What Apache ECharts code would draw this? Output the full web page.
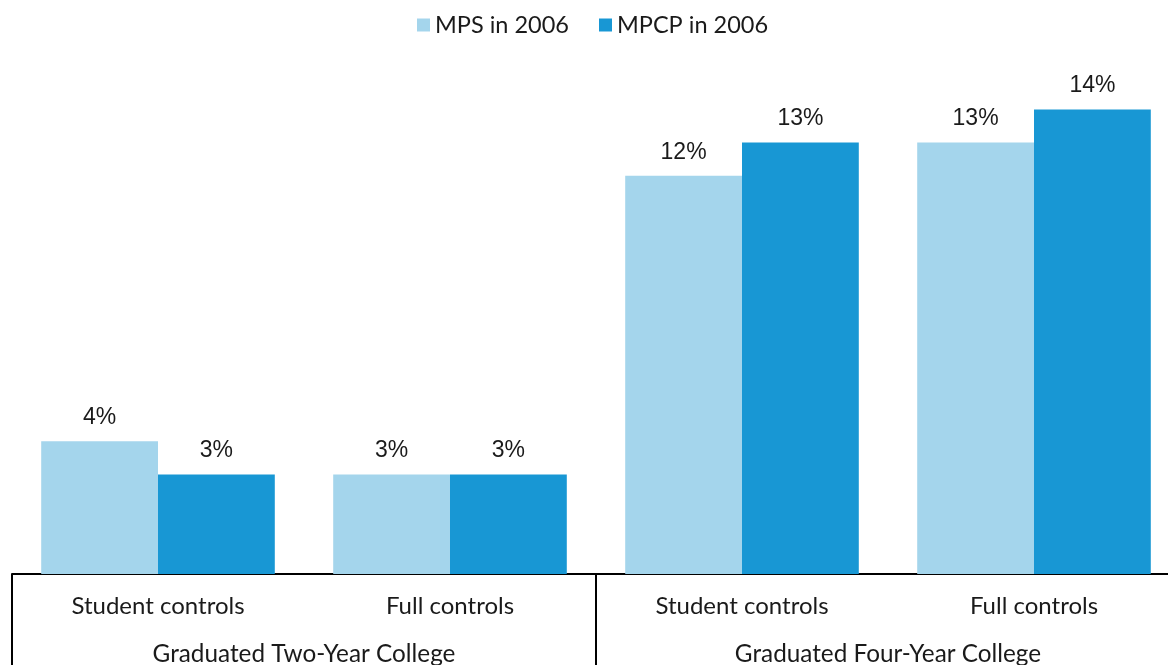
<!DOCTYPE html>
<html>
<head>
<meta charset="utf-8">
<script src="https://cdn.jsdelivr.net/npm/echarts@6/dist/echarts.min.js"></script>
<style>
  html, body { margin: 0; padding: 0; background: #fff; }
  #chart { width: 1168px; height: 665px; }
</style>
</head>
<body>
<div id="chart"></div>
<script>
// categories
const controls = ["Student controls", "Full controls", "Student controls", "Full controls"];
const outcomes = ["Graduated Two-Year College", "Graduated Four-Year College"];
// series values (%)
const mps2006 = [4, 3, 12, 13];
const mpcp2006 = [3, 3, 13, 14];

const chart = echarts.init(document.getElementById("chart"));

const labelStyle = {
  show: true,
  position: "top",
  distance: 12,
  formatter: (p) => Math.round(p.value) + "%",
  fontFamily: "Liberation Sans, Arial",
  fontSize: 23,
  color: "#1a1a1a",
};

const option = {
  animation: false,
  legend: {
    top: 8,
    left: 412,
    itemWidth: 13,
    itemHeight: 13,
    itemGap: 30,
    icon: "rect",
    textStyle: { fontFamily: "Lato", fontSize: 23.5, color: "#1a1a1a" },
  },
  grid: { left: 12, right: -12, top: 43, bottom: 91, outerBoundsMode: "none" },
  xAxis: [
    {
      type: "category",
      data: controls,
      axisLine: { show: false },
      axisTick: { show: false },
      axisLabel: {
        margin: 20,
        fontFamily: "Lato",
        fontSize: 24,
        color: "#1a1a1a",
      },
    },
    {
      type: "category",
      data: outcomes,
      position: "bottom",
      axisLine: { show: true, lineStyle: { color: "#000", width: 2 } },
      axisTick: { show: true, length: 95, lineStyle: { color: "#000", width: 2 } },
      axisLabel: {
        margin: 68,
        fontFamily: "Lato",
        fontSize: 24.3,
        color: "#1a1a1a",
      },
    },
  ],
  yAxis: {
    type: "value",
    min: 0,
    max: 16,
    show: false,
    splitLine: { show: false },
  },
  series: [
    {
      name: "MPS in 2006",
      type: "bar",
      data: mps2006,
      barGap: "0%",
      barCategoryGap: "20%",
      itemStyle: { color: "#A4D5EC" },
      label: labelStyle,
    },
    {
      name: "MPCP in 2006",
      type: "bar",
      data: mpcp2006,
      itemStyle: { color: "#1897D4" },
      label: labelStyle,
    },
  ],
};

chart.setOption(option);
</script>
</body>
</html>
